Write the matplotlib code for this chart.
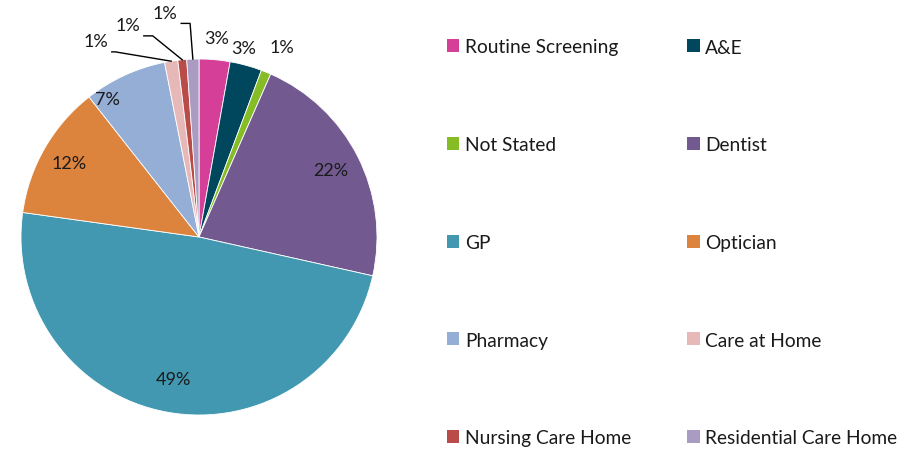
import numpy as np
import matplotlib
matplotlib.use("Agg")
import matplotlib.pyplot as plt
from matplotlib.patches import Patch

plt.rcParams["font.family"] = ["Lato", "DejaVu Sans"]

# --- data (share of referrals, %) ---
categories = ["Routine Screening", "A&E", "Not Stated", "Dentist", "GP",
              "Optician", "Pharmacy", "Care at Home", "Nursing Care Home",
              "Residential Care Home"]
values = [2.8, 2.9, 0.9, 21.9, 48.7, 12.2, 7.5, 1.2, 0.8, 1.1]
labels = ["3%", "3%", "1%", "22%", "49%", "12%", "7%", "1%", "1%", "1%"]
colors = ["#D63F97", "#00475E", "#86BC25", "#725A91", "#4198B0",
          "#DC843E", "#95AED6", "#E6B9B8", "#B94B48", "#A99BC1"]

fig = plt.figure(figsize=(9.21, 4.52), dpi=100)
W, H = 921, 452
cx, cy, r = 199, 238, 178
ax = fig.add_axes([(cx - r) / W, (H - cy - r) / H, 2 * r / W, 2 * r / H])

wedges, _ = ax.pie(values, colors=colors, startangle=90, counterclock=False,
                   radius=1.0, wedgeprops=dict(edgecolor="white", linewidth=0.6))
ax.set_xlim(-1, 1)
ax.set_ylim(-1, 1)
ax.set_aspect("equal")
ax.axis("off")

FS = 13
TXT = "#1a1a1a"


def mid_dir(w):
    a = np.deg2rad((w.theta1 + w.theta2) / 2)
    return np.cos(a), np.sin(a)


# label placement: (distance from centre, x nudge, y nudge)
place = {0: (1.12, 0.0, 0.0), 1: (1.10, -0.04, 0.0), 2: (1.15, 0.03, 0.0),
         3: (0.83, 0.0, 0.0), 4: (0.81, 0.0, 0.0), 5: (0.84, 0.0, 0.0),
         6: (0.85, -0.16, 0.0)}
for i, (d, ox, oy) in place.items():
    dx, dy = mid_dir(wedges[i])
    ax.text(dx * d + ox, dy * d + oy, labels[i], ha="center", va="center",
            fontsize=FS, color=TXT)

# small slices on the left, label with leader line
leader = {7: (-0.58, 1.10, -0.47), 8: (-0.40, 1.19, -0.26), 9: (-0.19, 1.26, -0.05)}
for i, (tx, ty, kx) in leader.items():
    dx, dy = mid_dir(wedges[i])
    ex, ey = dx * 1.0, dy * 1.0
    yline = ty - 0.06
    ax.plot([tx + 0.09, kx, ex], [yline, yline, ey], color="black", lw=1.0,
            clip_on=False)
    ax.text(tx, ty, labels[i], ha="center", va="center", fontsize=FS,
            color=TXT)

# legend, two columns, row order
order = [0, 2, 4, 6, 8, 1, 3, 5, 7, 9]
handles = [Patch(facecolor=colors[k], edgecolor="none", label=categories[k])
           for k in order]
fig.legend(handles=handles, ncol=2, loc="upper left",
           bbox_to_anchor=(447 / W, 1 - 39.5 / H), frameon=False, fontsize=13.8,
           handlelength=0.65, handleheight=0.65, handletextpad=0.3,
           labelspacing=4.21, columnspacing=2.9, borderpad=0, borderaxespad=0,
           labelcolor=TXT)

fig.savefig("out.png", dpi=100)
